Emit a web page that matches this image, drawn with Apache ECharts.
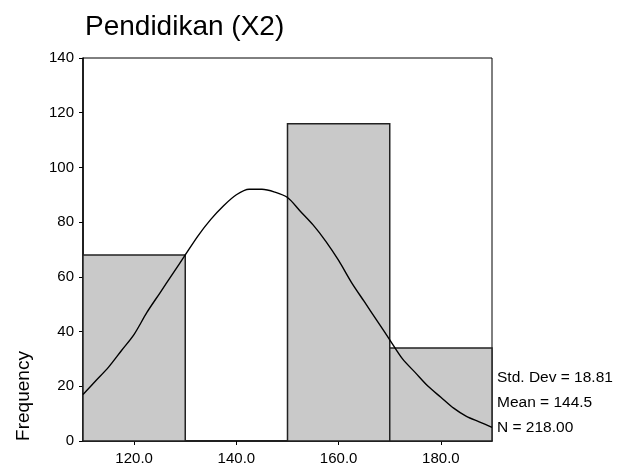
<!DOCTYPE html>
<html>
<head>
<meta charset="utf-8">
<script src="https://cdn.jsdelivr.net/npm/echarts@6/dist/echarts.min.js"></script>
<style>
  html, body { margin: 0; padding: 0; background: #fff; }
  #main { width: 617px; height: 467px; }
</style>
</head>
<body>
<div id="main"></div>
<script>
// histogram bins (start, end, count)
var binStart = [110, 130, 150, 170]
var binEnd = [130, 150, 170, 190]
var binCount = [68, 0, 116, 34]

// normal curve
var curveX = [110, 112.5, 115, 117.5, 120, 122.5, 125, 127.5, 130, 132.5, 135, 137.5, 140, 142.5, 145,
  147.5, 150, 152.5, 155, 157.5, 160, 162.5, 165, 167.5, 170, 172.5, 175, 177.5, 180, 182.5, 185, 187.5, 190]
var curveY = [17, 22, 27, 33, 39, 47, 54, 61, 68, 75, 81, 86, 90, 92, 92,
  91, 89, 84, 79, 73, 66, 58, 51, 44, 37, 30, 25, 20, 16, 12, 9, 7, 5]

var xTicks = [120, 140, 160, 180]
var statLines = ['Std. Dev = 18.81', 'Mean = 144.5', 'N = 218.00']

var font = 'Liberation Sans, Arial, sans-serif'

var bars = binStart.map(function (s, i) { return [s, binEnd[i], binCount[i]] })
var curve = curveX.map(function (x, i) { return [x, curveY[i]] })

var chart = echarts.init(document.getElementById('main'))
chart.setOption({
  animation: false,
  title: {
    text: 'Pendidikan (X2)',
    left: 80,
    top: 8,
    textStyle: { fontFamily: font, fontSize: 28, fontWeight: 'normal', color: '#000' }
  },
  grid: {
    left: 83, right: 125, top: 58, bottom: 26,
    show: true, borderColor: '#000', borderWidth: 1, backgroundColor: 'transparent'
  },
  xAxis: {
    type: 'value', min: 110, max: 190,
    splitLine: { show: false },
    axisLine: { lineStyle: { color: '#000', width: 1.5 } },
    axisTick: { show: true, length: 4, lineStyle: { color: '#000' }, customValues: xTicks },
    axisLabel: {
      customValues: xTicks, color: '#000', fontFamily: font, fontSize: 15, margin: 10,
      formatter: function (v) { return v.toFixed(1) }
    }
  },
  yAxis: {
    type: 'value', min: 0, max: 140, interval: 20,
    splitLine: { show: false },
    axisLine: { show: true, lineStyle: { color: '#000', width: 1.5 } },
    axisTick: { show: true, length: 4, lineStyle: { color: '#000' } },
    axisLabel: { color: '#000', fontFamily: font, fontSize: 15, margin: 9 }
  },
  graphic: [
    {
      type: 'text', x: 24, y: 396, rotation: Math.PI / 2,
      style: { text: 'Frequency', fill: '#000', font: '19px ' + font, align: 'center', verticalAlign: 'middle' }
    },
    {
      type: 'text', x: 497, y: 378,
      style: { text: statLines[0], fill: '#000', font: '15.5px ' + font, verticalAlign: 'middle' }
    },
    {
      type: 'text', x: 497, y: 403,
      style: { text: statLines[1], fill: '#000', font: '15.5px ' + font, verticalAlign: 'middle' }
    },
    {
      type: 'text', x: 497, y: 428,
      style: { text: statLines[2], fill: '#000', font: '15.5px ' + font, verticalAlign: 'middle' }
    }
  ],
  series: [
    {
      type: 'custom',
      data: bars,
      encode: { x: [0, 1], y: 2 },
      renderItem: function (params, api) {
        if (!api.value(2)) return null
        var p0 = api.coord([api.value(0), api.value(2)])
        var p1 = api.coord([api.value(1), 0])
        return {
          type: 'rect',
          shape: { x: p0[0], y: p0[1], width: p1[0] - p0[0], height: p1[1] - p0[1] },
          style: { fill: '#c9c9c9', stroke: '#222', lineWidth: 1.5 }
        }
      }
    },
    {
      type: 'line',
      data: curve,
      smooth: 0.3,
      showSymbol: false,
      z: 5,
      lineStyle: { color: '#000', width: 1.4 }
    }
  ]
})
</script>
</body>
</html>
